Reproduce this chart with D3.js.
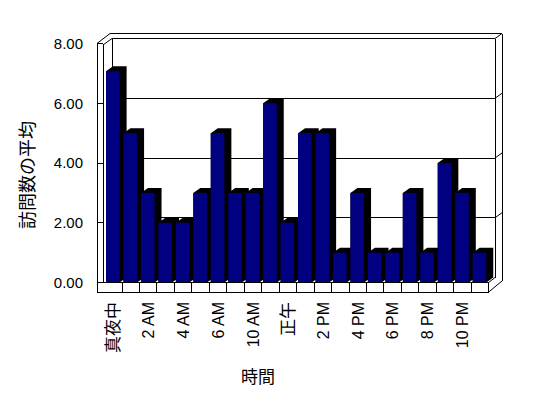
<!DOCTYPE html>
<html>
<head>
<meta charset="utf-8">
<script src="https://cdn.jsdelivr.net/npm/d3@7/dist/d3.min.js"></script>
<style>
  html, body { margin: 0; padding: 0; background: #fff; }
  svg { display: block; }
  text { font-family: "Liberation Sans", "Noto Sans CJK JP", sans-serif; fill: #000; }
</style>
</head>
<body>
<script>

// hours that have data (8 AM and 9 AM are missing in the source)
var hours = ['真夜中', '1 AM', '2 AM', '3 AM', '4 AM', '5 AM', '6 AM', '7 AM',
             '10 AM', '11 AM', '正午', '1 PM', '2 PM', '3 PM', '4 PM', '5 PM',
             '6 PM', '7 PM', '8 PM', '9 PM', '10 PM', '11 PM'];

var visits = [7.07, 5, 3, 2, 2, 3, 5, 3, 3, 6, 2, 5, 5, 1, 3, 1, 1, 3, 1, 4, 3, 1];

var yTicks = [0, 2, 4, 6, 8];
var yTickLabels = ['0.00', '2.00', '4.00', '6.00', '8.00'];

var yTitle = '訪問数の平均';
var xTitle = '時間';

var Chart = {

  width: 548,
  height: 398,

  // oblique offset of the bars (side + top faces)
  barDepth: { dx: 7, dy: -5 },

  // offset of the back wall relative to the front axis
  wallShift: -5,

  svg: null,
  x: null,
  y: null,

  init: function () {

    this.svg = d3.select('body').append('svg')
      .attr('width', this.width)
      .attr('height', this.height);

    this.svg.append('rect')
      .attr('width', this.width)
      .attr('height', this.height)
      .attr('fill', '#fff');

    this.x = d3.scaleBand().domain(hours).range([104.6, 488.7]);
    this.y = d3.scaleLinear().domain([0, 8]).range([282.5, 43.5]);

    this.drawWalls();
    this.drawBars();
    this.drawFloor();
    this.drawLabels();
  },

  line: function (x1, y1, x2, y2) {
    return this.svg.append('line')
      .attr('x1', x1).attr('y1', y1)
      .attr('x2', x2).attr('y2', y2)
      .attr('stroke', '#000')
      .attr('stroke-width', 1)
      .attr('shape-rendering', 'crispEdges');
  },

  poly: function (pts) {
    return 'M' + pts.map(function (p) { return p[0] + ',' + p[1]; }).join('L') + 'Z';
  },

  drawWalls: function () {
    var y = this.y, s = this.wallShift;
    var top = y(8) + s;

    // back wall gridlines, carried onto the right side as short diagonals
    yTicks.slice(1).forEach(function (t) {
      this.line(112, y(t) + s, 495, y(t) + s);
      this.svg.append('line')
        .attr('x1', 495).attr('y1', y(t) + s)
        .attr('x2', 502).attr('y2', y(t) + s - 5)
        .attr('stroke', '#000');
    }, this);

    // outer top edge and wall edges
    this.line(110, top - 5, 502, top - 5);
    this.line(112, top, 112, y(0) + s);
    this.line(495, top, 495, y(0) + s);
    this.line(502, top - 5, 502, 281);

    this.svg.append('path')
      .attr('d', 'M97,' + y(8) + 'L110,' + (top - 5) +
                 'M103,' + (y(8) + 1.5) + 'L112,' + top)
      .attr('stroke', '#000').attr('fill', 'none');
  },

  drawBars: function () {
    var x = this.x, y = this.y, d = this.barDepth;
    var w = x.bandwidth() * 0.78;
    var base = y(0);

    var g = this.svg.append('g');

    hours.forEach(function (h, i) {
      var x0 = x(h) + 1.4;
      var yt = y(visits[i]);

      g.append('path')
        .attr('d', this.poly([
          [x0, yt], [x0 + d.dx, yt + d.dy], [x0 + w + d.dx, yt + d.dy],
          [x0 + w + d.dx, base + d.dy], [x0 + w, base], [x0, base]
        ]))
        .attr('fill', '#000');

      g.append('rect')
        .attr('x', x0)
        .attr('y', yt)
        .attr('width', w)
        .attr('height', base - yt)
        .attr('fill', '#000080');
    }, this);
  },

  drawFloor: function () {
    var x = this.x, y = this.y;
    var base = y(0), bottom = 292;
    var right = x.range()[1];

    // floor front face
    this.svg.append('rect')
      .attr('x', 103).attr('y', base)
      .attr('width', right - 103).attr('height', bottom - base)
      .attr('fill', '#fff');

    this.line(103, base, right, base);
    this.line(97, bottom, right, bottom);
    this.line(right, base, right, bottom);

    hours.slice(1).forEach(function (h) {
      this.line(x(h), base, x(h), bottom);
    }, this);

    this.svg.append('path')
      .attr('d', 'M' + right + ',' + base + 'L495,' + (base - 5) +
                 'M' + right + ',' + bottom + 'L502,281')
      .attr('stroke', '#000').attr('fill', 'none');

    // left wall front face
    this.line(97, y(8), 97, bottom);
    this.line(103, y(8), 103, base);
    this.line(97, y(8), 103, y(8));

    yTicks.forEach(function (t) {
      this.line(97, y(t), 103, y(t));
    }, this);
  },

  drawLabels: function () {
    var x = this.x, y = this.y;

    this.svg.append('g').selectAll('text')
      .data(yTicks)
      .enter().append('text')
      .attr('x', 83)
      .attr('y', function (t) { return y(t); })
      .attr('dy', '0.36em')
      .attr('text-anchor', 'end')
      .style('font-size', '15px')
      .text(function (t, i) { return yTickLabels[i]; });

    // only every other category gets a label
    this.svg.append('g').selectAll('text')
      .data(hours.filter(function (h, i) { return i % 2 === 0; }))
      .enter().append('text')
      .attr('transform', function (h) {
        return 'translate(' + (x(h) + x.bandwidth() / 2) + ',302) rotate(-90)';
      })
      .attr('dy', '0.36em')
      .attr('text-anchor', 'end')
      .style('font-size', function (h) { return /[A-Z]/.test(h) ? '16px' : '17px'; })
      .text(function (h) { return h; });

    this.svg.append('text')
      .attr('transform', 'translate(27.5,175) rotate(-90)')
      .attr('dy', '0.36em')
      .attr('text-anchor', 'middle')
      .style('font-size', '18px')
      .text(yTitle);

    this.svg.append('text')
      .attr('x', 258)
      .attr('y', 377)
      .attr('dy', '0.36em')
      .attr('text-anchor', 'middle')
      .style('font-size', '17px')
      .text(xTitle);
  }
};

Chart.init();
</script>
</body>
</html>
